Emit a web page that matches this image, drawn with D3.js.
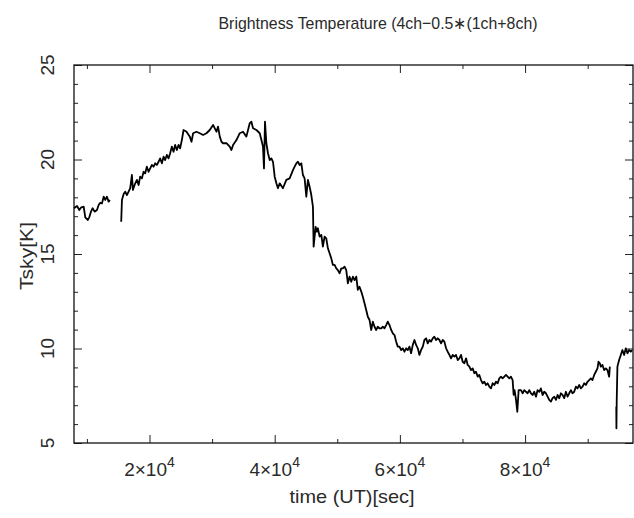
<!DOCTYPE html>
<html>
<head>
<meta charset="utf-8">
<script src="https://cdn.jsdelivr.net/npm/d3@7"></script>
<style>
  body { margin: 0; background: #fff; }
  text { font-family: "Liberation Sans", Arial, sans-serif; fill: #2a2a2a; }
</style>
</head>
<body>
<div id="chart"></div>
<script>
// chart data (time in sec UT, Tsky in K)
var seg1Time = [7940, 8420, 8790, 9100, 9490, 9740, 10130, 10380, 10650, 10920,
  11240, 11610, 11880, 12140, 12410, 12680, 12930, 13200, 13470, 13680];
var seg1Tsky = [17.42, 17.54, 17.33, 17.47, 17.50, 16.94, 16.80, 16.94, 17.24, 17.42,
  17.24, 17.33, 17.59, 17.71, 17.68, 18.03, 17.86, 18.03, 17.77, 17.86];

var seg2Time = [
  15480, 15600, 15870, 16120, 16390, 16660, 16920, 17190, 17350, 17720,
  17990, 18260, 18510, 18790, 19060, 19310, 19580, 19850, 20110, 20380,
  20650, 20910, 21180, 21450, 21700, 21980, 22250, 22500, 22770, 23040,
  23300, 23570, 23840, 24100, 24370, 24640, 24890, 25170, 25440,
  25920, 26440, 26710, 26970, 27510, 28040, 28560, 29100, 29630, 30160,
  30430, 30700, 30950, 31230, 31500, 31750, 32290, 32820, 33090, 33350,
  33890, 34420, 34940, 35480, 36010, 36280, 36540, 37080, 37610, 37880,
  38130, 38290, 38450, 38670, 38930, 39200, 39470, 39730, 40000, 40270, 40520,
  40800, 41320, 41860, 42390, 42920, 43190, 43460, 43710, 43990, 44260,
  44510, 44780, 45050, 45310, 45580, 45850, 46110, 46220, 46540, 46740,
  46900, 47180, 47450, 47700, 47970, 48240, 48500, 48770, 49040, 49300,
  49570, 49840, 50090, 50370, 50640, 50890, 51160, 51430, 51690, 51960,
  52230, 52490, 52760, 53030, 53280, 53550, 53830, 54080, 54350, 54620,
  54880, 55150, 55420, 55680, 55950, 56220, 56470, 56740, 57020, 57270,
  57540, 57810, 58070, 58340, 58610, 58870, 59140, 59410, 59660,
  59930, 60200, 60470, 60730, 61000, 61260, 61530, 61790, 62060, 62330,
  62590, 62860, 63120, 63390, 63660, 63920, 64190, 64450, 64720, 64980,
  65250, 65520, 65780, 66050, 66310, 66580, 66850, 67110, 67380, 67640,
  67910, 68170, 68440, 68710, 68970, 69240, 69500, 69770, 70030, 70300,
  70570, 70830, 71100, 71360, 71630, 71900, 72160, 72430, 72690, 72960,
  73220, 73490, 73760, 74020, 74290, 74550, 74820, 75080, 75350, 75620,
  75880, 76150, 76410, 76680, 76950, 77210, 77480, 77740, 78010,
  78170, 78320, 78550, 78760, 78970,
  79340, 79610, 79870, 80140, 80400, 80670, 80940, 81200, 81470, 81740,
  82000, 82270, 82530, 82800, 83060, 83330, 83600, 83860, 84130, 84390,
  84660, 84930, 85190, 85460, 85720, 85990, 86250, 86520, 86790, 87050,
  87320, 87580, 87850, 88110, 88380, 88650, 88910, 89180, 89440, 89710,
  89970, 90240, 90510, 90770, 91040, 91300, 91570,
  91730, 91940, 92100, 92360, 92630, 92900, 93160, 93430, 93540];
var seg2Tsky = [
  16.71, 17.86, 18.17, 18.30, 18.12, 18.30, 18.48, 19.18, 18.39, 18.74,
  18.92, 18.65, 19.09, 19.00, 19.35, 19.27, 19.62, 19.35, 19.53, 19.71,
  19.62, 19.80, 19.71, 19.88, 20.06, 19.80, 20.15, 19.97, 20.24, 20.06,
  20.33, 20.68, 20.41, 20.77, 20.50, 20.77, 20.59, 21.03, 21.56,
  21.47, 21.21, 20.94, 21.39, 21.47, 21.39, 21.30, 21.39, 21.56, 21.83,
  21.65, 21.47, 21.74, 21.21, 20.94, 20.86, 20.86, 20.68, 20.50, 20.77,
  21.03, 21.39, 21.47, 21.21, 21.92, 22.00, 21.65, 21.56, 21.39, 21.03,
  20.68, 19.53, 22.00, 20.86, 20.33, 19.97, 20.06, 19.88, 19.09, 18.74, 18.48,
  18.74, 18.48, 18.92, 19.00, 19.44, 19.62, 19.80, 19.88, 19.71, 19.80,
  19.18, 19.00, 18.03, 18.92, 18.56, 18.12, 17.50, 15.39, 16.44, 16.18,
  16.36, 15.92, 16.01, 15.39, 15.92, 15.83, 15.30, 15.04, 14.77, 14.42,
  14.42, 14.24, 14.15, 13.98, 14.24, 14.24, 14.33, 14.15, 13.45, 13.80,
  13.53, 13.80, 13.62, 13.80, 13.10, 13.27, 13.01, 12.74, 12.39, 12.04,
  11.68, 11.51, 10.98, 11.42, 11.15, 10.98, 11.15, 11.07, 11.07, 11.15,
  11.07, 11.24, 11.42, 11.24, 10.98, 10.80, 10.71, 10.36, 10.10,
  10.10, 9.92, 10.01, 9.83, 10.01, 9.92, 10.10, 9.75, 10.19, 10.45,
  10.19, 10.01, 9.66, 9.92, 10.10, 10.45, 10.54, 10.27, 10.45, 10.36,
  10.54, 10.62, 10.45, 10.54, 10.45, 10.27, 10.45, 10.36, 10.01, 9.83,
  9.66, 9.48, 9.66, 9.57, 9.66, 9.39, 9.48, 9.66, 9.30, 9.22,
  9.48, 9.13, 9.04, 8.86, 8.95, 8.69, 8.77, 8.51, 8.60, 8.33,
  8.16, 8.24, 8.07, 8.16, 7.98, 7.89, 8.16, 8.07, 8.24, 8.16,
  8.42, 8.51, 8.42, 8.51, 8.60, 8.51, 8.42, 8.51, 8.33,
  7.55, 7.80, 7.30, 6.65, 7.80,
  7.80, 7.63, 7.80, 7.71, 7.63, 7.80, 7.63, 7.54, 7.71, 7.45,
  7.80, 7.71, 7.89, 7.54, 7.71, 7.63, 7.45, 7.28, 7.19, 7.37,
  7.45, 7.28, 7.54, 7.37, 7.63, 7.54, 7.37, 7.71, 7.45, 7.63,
  7.80, 7.63, 7.71, 7.98, 7.89, 8.07, 7.89, 7.98, 8.16, 8.07,
  8.24, 8.33, 8.42, 8.33, 8.60, 8.77, 8.95,
  9.30, 9.22, 9.04, 9.13, 8.86, 8.95, 8.86, 8.51, 9.04];

var seg3Time = [94570, 94590, 94640, 94750, 95020, 95290, 95550, 95820, 96090, 96350, 96620, 96890, 97100];
var seg3Tsky = [6.92, 5.78, 7.28, 9.04, 9.39, 9.66, 9.92, 9.66, 10.01, 9.75, 9.92, 9.83, 9.92];

// axis ticks
var xMajor = [20000, 40000, 60000, 80000];
var xMinor = [10000, 30000, 50000, 70000, 90000];
var xMajorMant = ["2", "4", "6", "8"];
var yMajor = [5, 10, 15, 20, 25];
var yMinor = [6, 7, 8, 9, 11, 12, 13, 14, 16, 17, 18, 19, 21, 22, 23, 24];

var margin = { top: 65, right: 1, bottom: 75, left: 74 },
    width = 634 - margin.left - margin.right,
    height = 518 - margin.top - margin.bottom;

var svg = d3.select("#chart")
  .append("svg")
  .attr("width", 634)
  .attr("height", 518);

var g = svg.append("g")
  .attr("transform", "translate(" + margin.left + "," + margin.top + ")");

var x = d3.scaleLinear().domain([7940, 97240]).range([0, width]);
var y = d3.scaleLinear().domain([5, 25]).range([height, 0]);

// ticks pointing into the box on all four sides
var addTicks = function(axisFn, scale, vals, size, tx, ty) {
  g.append("g")
    .attr("class", "ticks")
    .attr("transform", "translate(" + tx + "," + ty + ")")
    .call(axisFn(scale).tickValues(vals).tickSize(-size).tickSizeOuter(0).tickFormat(""));
};
addTicks(d3.axisBottom, x, xMajor, 8, 0, height);
addTicks(d3.axisBottom, x, xMinor, 4, 0, height);
addTicks(d3.axisTop, x, xMajor, 8, 0, 0);
addTicks(d3.axisTop, x, xMinor, 4, 0, 0);
addTicks(d3.axisLeft, y, yMajor, 8, 0, 0);
addTicks(d3.axisLeft, y, yMinor, 4, 0, 0);
addTicks(d3.axisRight, y, yMajor, 8, width, 0);
addTicks(d3.axisRight, y, yMinor, 4, width, 0);

g.selectAll(".ticks line").attr("stroke", "#222").attr("stroke-width", 1);
g.selectAll(".ticks path").attr("stroke", "none");

// frame
g.append("rect")
  .attr("width", width)
  .attr("height", height)
  .attr("fill", "none")
  .attr("stroke", "#111")
  .attr("stroke-width", 1.3);

// x tick labels like 2x10^4
var xl = g.selectAll(".xlab")
  .data(xMajor)
  .enter().append("text")
  .attr("class", "xlab")
  .attr("x", function(d) { return x(d); })
  .attr("y", height + 33)
  .attr("text-anchor", "middle")
  .style("font-size", "19px");
xl.append("tspan").text(function(d, i) { return xMajorMant[i] + "\u00d710"; });
xl.append("tspan").attr("dy", -9).style("font-size", "14px").text("4");

// y tick labels, rotated
g.selectAll(".ylab")
  .data(yMajor)
  .enter().append("text")
  .attr("class", "ylab")
  .attr("transform", function(d) { return "translate(-20," + y(d) + ") rotate(-90)"; })
  .attr("text-anchor", "middle")
  .style("font-size", "19px")
  .text(function(d) { return d; });

// axis titles
g.append("text")
  .attr("x", 278)
  .attr("y", height + 60)
  .attr("text-anchor", "middle")
  .style("font-size", "19px")
  .attr("textLength", 125)
  .attr("lengthAdjust", "spacingAndGlyphs")
  .text("time (UT)[sec]");

g.append("text")
  .attr("transform", "translate(-41," + (height / 2 + 2) + ") rotate(-90)")
  .attr("text-anchor", "middle")
  .style("font-size", "19px")
  .attr("textLength", 68)
  .attr("lengthAdjust", "spacingAndGlyphs")
  .text("Tsky[K]");

g.append("text")
  .attr("x", 304)
  .attr("y", -36)
  .attr("text-anchor", "middle")
  .style("font-size", "17px")
  .attr("textLength", 319)
  .attr("lengthAdjust", "spacingAndGlyphs")
  .text("Brightness Temperature (4ch\u22120.5\u2217(1ch+8ch)");

// the curve, three pieces with gaps between
var line = d3.line()
  .x(function(d) { return x(d[0]); })
  .y(function(d) { return y(d[1]); });

var segs = [
  d3.zip(seg1Time, seg1Tsky),
  d3.zip(seg2Time, seg2Tsky),
  d3.zip(seg3Time, seg3Tsky)
];

g.selectAll(".seg")
  .data(segs)
  .enter().append("path")
  .attr("class", "seg")
  .attr("d", line)
  .attr("fill", "none")
  .attr("stroke", "#000")
  .attr("stroke-width", 1.8)
  .attr("stroke-linejoin", "round");
</script>
</body>
</html>
